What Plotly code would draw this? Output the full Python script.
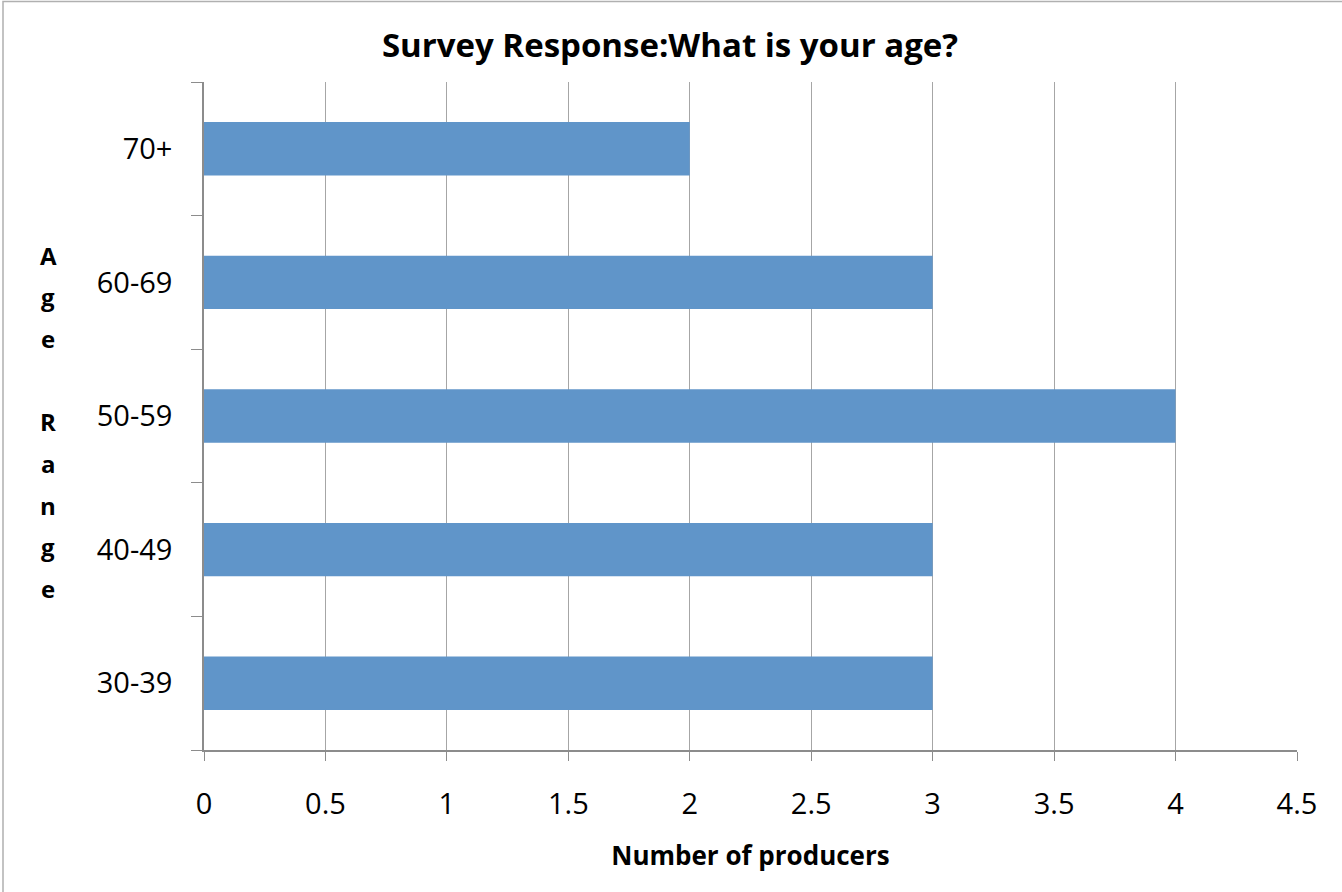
import plotly.graph_objects as go

categories = ["30-39", "40-49", "50-59", "60-69", "70+"]
values = [3, 3, 4, 3, 2]
x_ticks = [0, 0.5, 1, 1.5, 2, 2.5, 3, 3.5, 4, 4.5]
x_tick_labels = ["0", "0.5", "1", "1.5", "2", "2.5", "3", "3.5", "4", "4.5"]
title_text = "Survey Response:What is your age?"
x_title = "Number of producers"
y_title_letters = ["A", "g", "e", "", "R", "a", "n", "g", "e"]

W, H = 1342, 892
L, R, T, B = 204, 45, 82, 142
plot_h = H - T - B
plot_w = W - L - R

fig = go.Figure()
fig.add_trace(go.Bar(
    x=values, y=categories, orientation="h",
    marker=dict(color="#6095C9", line=dict(width=0)),
    hoverinfo="x+y",
))

FONT = "'Open Sans', Lato, sans-serif"

annotations = []
y0_px, step_px = 255, 41.7
for i, ch in enumerate(y_title_letters):
    if not ch:
        continue
    ypx = y0_px + i * step_px
    annotations.append(dict(
        text=f"<b>{ch}</b>", xref="paper", yref="paper",
        x=(48 - L) / plot_w, y=(H - B - ypx) / plot_h,
        xanchor="center", yanchor="middle", showarrow=False,
        font=dict(family=FONT, size=24, color="#000000"),
    ))

fig.update_layout(
    width=W, height=H,
    margin=dict(l=L, r=R, t=T, b=B, pad=0),
    paper_bgcolor="white", plot_bgcolor="white",
    showlegend=False,
    bargap=0.6,
    title=dict(text=f"<b>{title_text}</b>", x=(670) / W, xanchor="center",
               y=1 - 45 / H, yanchor="middle", yref="container",
               font=dict(family=FONT, size=33, color="#000000")),
    font=dict(family=FONT, color="#000000"),
    annotations=annotations,
    shapes=[dict(type="rect", xref="paper", yref="paper",
                 x0=(3 - L) / plot_w, x1=(W + 5 - L) / plot_w,
                 y0=(H - B - (H + 5)) / plot_h, y1=(H - B - 1.5) / plot_h,
                 line=dict(color="#B0B0B0", width=1.5), fillcolor="rgba(0,0,0,0)",
                 layer="below")],
)

fig.update_xaxes(
    range=[0, 4.5], tickmode="array", tickvals=x_ticks, ticktext=x_tick_labels,
    showgrid=True, gridcolor="#A6A6A6", gridwidth=1,
    showline=True, linecolor="#8C8C8C", linewidth=1.5,
    ticks="outside", ticklen=9, tickcolor="#8C8C8C", tickwidth=1,
    tickfont=dict(family=FONT, size=29, color="#000000"),
    ticklabelstandoff=18,
    zeroline=False,
    title=dict(text=f"<b>{x_title}</b>", standoff=26,
               font=dict(family=FONT, size=26, color="#000000")),
)
fig.update_yaxes(
    type="category", categoryorder="array", categoryarray=categories,
    range=[-0.5, 4.5],
    showgrid=False, showline=True, linecolor="#8C8C8C", linewidth=1.5,
    ticks="outside", tickson="boundaries", ticklen=11, tickcolor="#8C8C8C", tickwidth=1,
    tickfont=dict(family=FONT, size=29, color="#000000"),
    ticklabelstandoff=24,
)

fig.write_html("out.html")
